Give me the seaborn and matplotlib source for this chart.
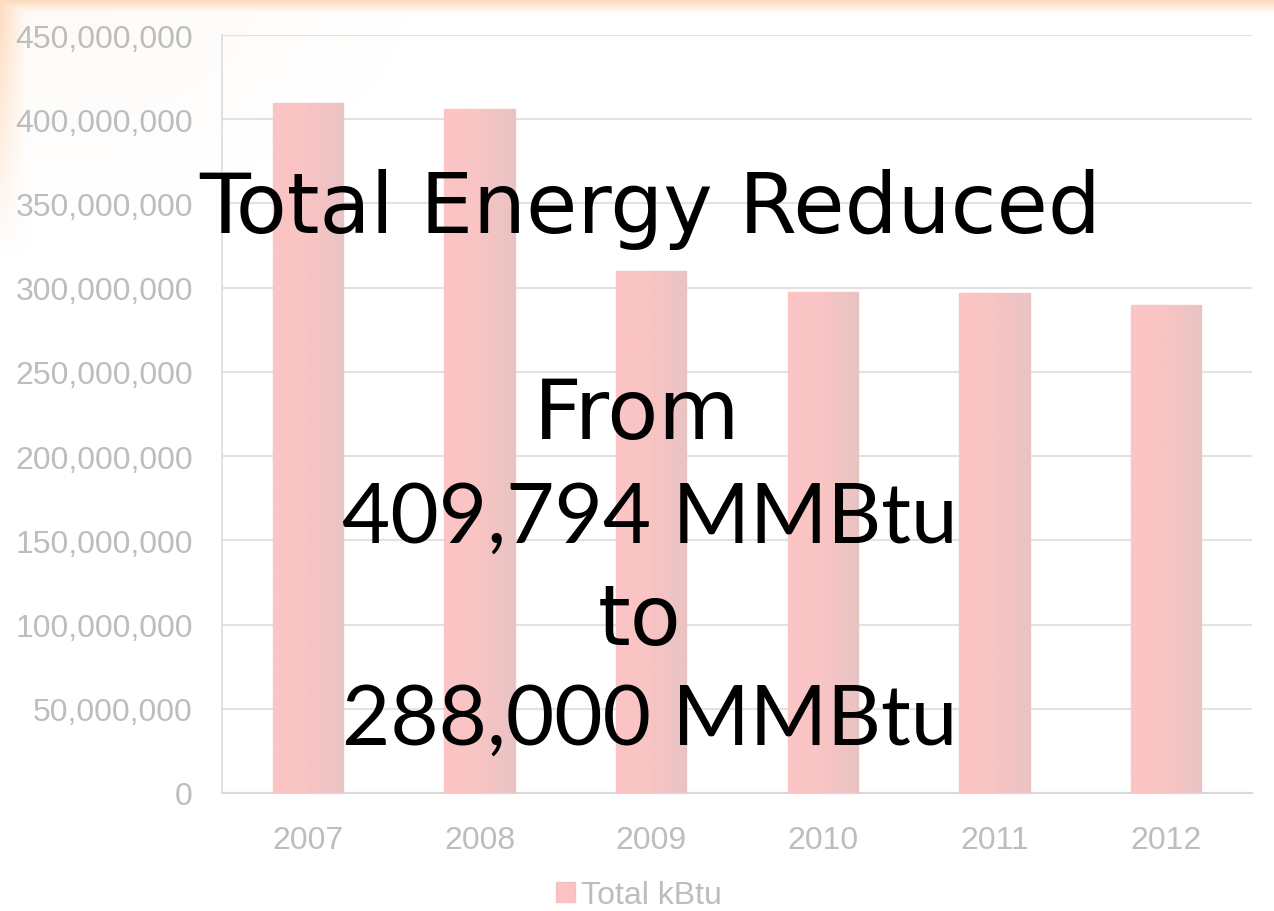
import numpy as np
import pandas as pd
import matplotlib
matplotlib.use('Agg')
import matplotlib.pyplot as plt
import seaborn as sns
from matplotlib.ticker import FuncFormatter, FixedLocator
from matplotlib.colors import LinearSegmentedColormap

# chart data
years = ['2007', '2008', '2009', '2010', '2011', '2012']
total_kbtu = [409794000, 406000000, 310000000, 297500000, 297000000, 289500000]
series_name = 'Total kBtu'

overlay_lines = ['Total Energy Reduced', 'From', '409,794 MMBtu', 'to', '288,000 MMBtu']

sns.set_style('white')
plt.rcParams['font.family'] = ['Liberation Sans', 'DejaVu Sans']

df = pd.DataFrame({'Year': years, 'kBtu': total_kbtu, 'Series': series_name})

fig = plt.figure(figsize=(12.74, 9.12), dpi=100)

# faint orange glow at the top-left edge of the slide
bg = fig.add_axes([0, 0, 1, 1], zorder=-10)
h, w = 912, 1274
yy, xx = np.mgrid[0:h, 0:w]
top = np.clip(1 - yy / 14.0, 0, 1) * 0.9
left = np.clip(1 - xx / 30.0, 0, 1) * np.clip(1 - yy / 260.0, 0, 1) * 0.8
corner = np.clip(1 - np.hypot(xx / 420.0, yy / 220.0), 0, 1) * 0.12
alpha = np.clip(np.maximum.reduce([top, left, corner]), 0, 1)
img = np.zeros((h, w, 4))
img[..., 0] = 0.99
img[..., 1] = 0.83
img[..., 2] = 0.68
img[..., 3] = alpha
bg.imshow(img, aspect='auto', extent=[0, 1, 0, 1])
bg.set_axis_off()

ax = fig.add_axes([222 / 1274, 1 - 794 / 912, 1030 / 1274, 758 / 912])
ax.patch.set_alpha(0)

sns.barplot(data=df, x='Year', y='kBtu', hue='Series', palette=['#fbc3c3'],
            saturation=1, width=0.41, edgecolor='#f2c2c2', linewidth=1,
            ax=ax, zorder=3)

# left-to-right shading on each bar
shade = LinearSegmentedColormap.from_list('shade', ['#fdc4c4', '#f8c4c4', '#e9c3c3'])
grad = np.linspace(0, 1, 64).reshape(1, -1)
for bar in ax.patches:
    x0, y0 = bar.get_x(), bar.get_y()
    bw, bh = bar.get_width(), bar.get_height()
    if bh <= 0:
        continue
    im = ax.imshow(grad, cmap=shade, aspect='auto', zorder=3.5,
                   extent=[x0, x0 + bw, y0, y0 + bh], origin='lower')
    im.set_clip_path(bar)
ax.set_xlim(-0.5, len(years) - 0.5)
ax.set_ylim(0, 450000000)

ax.yaxis.set_major_locator(FixedLocator(np.arange(0, 450000001, 50000000)))
ax.yaxis.set_major_formatter(FuncFormatter(lambda v, p: f'{int(v):,}'))
ax.grid(axis='y', color='#e2e2e2', linewidth=1.5, zorder=0)
ax.set_axisbelow(True)

tick_grey = '#bdbdbd'
ax.tick_params(axis='y', length=0, pad=21, labelsize=23, labelcolor=tick_grey)
ax.tick_params(axis='x', which='major', length=0, pad=23, labelsize=23, labelcolor=tick_grey)
ax.set_xticks(np.arange(-0.5, len(years)), minor=True)
ax.tick_params(axis='x', which='minor', length=10, width=1.2, color='#d9d9d9')

ax.set_xlabel('')
ax.set_ylabel('')
for s in ['top', 'right']:
    ax.spines[s].set_visible(False)
ax.spines['left'].set_color('#dcdcdc')
ax.spines['bottom'].set_color('#d9d9d9')
ax.spines['left'].set_linewidth(1.2)
ax.spines['bottom'].set_linewidth(1.5)

ax.legend(loc='center', bbox_to_anchor=(0.405, -0.135), frameon=False,
          handlelength=0.6, handleheight=0.6, handletextpad=0.2,
          labelcolor=tick_grey, prop={'size': 23})

# big overlay text
word = dict(color='black', fontsize=60, family=['DejaVu Sans'], ha='center', va='center')
num = dict(color='black', fontsize=60, family=['Lato', 'DejaVu Sans'], ha='center', va='center')
fig.text(650 / 1274, 1 - 210 / 912, overlay_lines[0], **word)
fig.text(637 / 1274, 1 - 415 / 912, overlay_lines[1], **word)
fig.text(650 / 1274, 1 - 520 / 912, overlay_lines[2], **num)
fig.text(640 / 1274, 1 - 622 / 912, overlay_lines[3], **word)
fig.text(650 / 1274, 1 - 722 / 912, overlay_lines[4], **num)

fig.savefig('out.png', dpi=100)
